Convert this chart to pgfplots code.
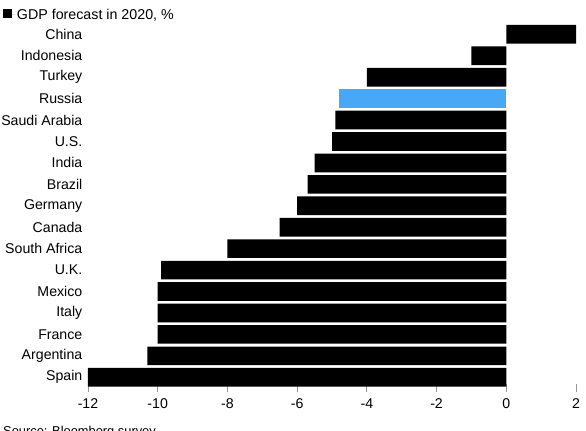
\documentclass[border=0pt]{standalone}
\usepackage{pgfplots}
\pgfplotsset{compat=1.18}
\usepackage{fontspec}
\setmainfont{Liberation Sans}
\definecolor{rublue}{RGB}{73,168,245}
\definecolor{tickgray}{RGB}{150,150,150}
\begin{document}
\begin{tikzpicture}
\useasboundingbox (-88bp,-43bp) rectangle (498bp,388bp);
\begin{axis}[
  at={(0,0)}, anchor=south west,
  scale only axis,
  width=488bp, height=364.4bp,
  xbar, bar width=0.87, bar shift=0pt,
  xmin=-12, xmax=2, ymin=-0.5, ymax=16.5,
  y dir=reverse,
  axis line style={draw=none},
  xtick={-12,-10,...,2},
  xtick pos=bottom,
  ytick={0,...,16},
  yticklabels={China,Indonesia,Turkey,Russia,Saudi Arabia,U.S.,India,Brazil,Germany,Canada,South Africa,U.K.,Mexico,Italy,France,Argentina,Spain},
  tick align=center, major tick length=8bp,
  xtick style={draw=tickgray, line width=0.8bp},
  ytick style={draw=none},
  tick label style={font=\fontsize{14.2}{17}\selectfont, text=black},
  /pgf/number format/assume math mode=true,
  xticklabel style={yshift=-3bp},
  yticklabel style={inner sep=0pt, xshift=-1.5bp},
  legend style={draw=none, fill=none, inner sep=0pt, outer sep=0pt,
    at={(axis description cs:0,1)}, anchor=south west, xshift=-85bp, yshift=1bp,
    font=\fontsize{14.3}{17}\selectfont},
  legend cell align=left,
]
\addplot[fill=black, draw=none,
  legend image code/.code={\fill[black] (0bp,-3.4bp) rectangle (9.5bp,5.6bp); \path (0bp,0bp) -- (12bp,0bp);}]
  coordinates {(2,0) (-1,1) (-4,2) (-4.9,4) (-5,5) (-5.5,6) (-5.7,7) (-6,8) (-6.5,9) (-8,10) (-9.9,11) (-10,12) (-10,13) (-10,14) (-10.3,15) (-12,16)};
\addlegendentry{GDP forecast in 2020, \%}
\addplot[fill=rublue, draw=none, forget plot] coordinates {(-4.8,3)};
\end{axis}
\node[anchor=base west, inner sep=0pt, font=\fontsize{12.9}{15}\selectfont] at (-85bp,-47.7bp) {Source: Bloomberg survey};
\end{tikzpicture}
\end{document}
